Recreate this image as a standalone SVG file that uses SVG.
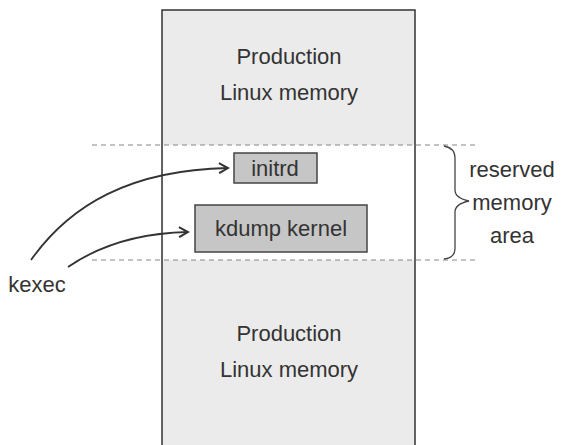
<svg xmlns="http://www.w3.org/2000/svg" width="571" height="445" viewBox="0 0 571 445">
<defs>
<style>
text{font-family:"Liberation Sans",Arial,sans-serif;font-size:22px;fill:#333;text-anchor:middle}
.box{fill:#c6c6c6;stroke:#444;stroke-width:1.5}
.dash{stroke:#888;stroke-width:1.2;stroke-dasharray:5,4;fill:none}
.conn{fill:none;stroke:#333;stroke-width:1.8}
</style>
<marker id="ah" viewBox="0 0 12 12" refX="10" refY="6" markerWidth="12" markerHeight="12" markerUnits="userSpaceOnUse" orient="auto">
<path d="M1,1 L10,6 L1,11" fill="none" stroke="#333" stroke-width="2"/>
</marker>
</defs>
<rect width="571" height="445" fill="#fff"/>
<g id="memory">
<rect x="162" y="10" width="253" height="440" fill="#ebebeb" stroke="#333" stroke-width="1.5"/>
<rect x="163" y="145" width="251" height="115" fill="#fff"/>
<text x="289" y="64">Production</text>
<text x="289" y="100">Linux memory</text>
<text x="289" y="341">Production</text>
<text x="289" y="377">Linux memory</text>
</g>
<g id="reserved">
<line class="dash" x1="92" y1="145" x2="478" y2="145"/>
<line class="dash" x1="92" y1="260" x2="478" y2="260"/>
<path d="M444,146 Q455,148 455,158 L455,190 Q455,198 469,201 Q455,204 455,212 L455,248 Q455,258 444,259" fill="none" stroke="#444" stroke-width="1.3"/>
<text x="512" y="177">reserved</text>
<text x="512" y="210">memory</text>
<text x="512" y="243">area</text>
</g>
<g id="initrd">
<rect class="box" x="234" y="153" width="83" height="30"/>
<text x="275" y="176">initrd</text>
</g>
<g id="kdump">
<rect class="box" x="195" y="205" width="172" height="47"/>
<text x="281" y="236">kdump kernel</text>
</g>
<g id="kexec">
<text x="37" y="292">kexec</text>
</g>
<g id="connectors">
<path class="conn" d="M31,260 C70,205 130,170 228,168" marker-end="url(#ah)"/>
<path class="conn" d="M68,267 C100,245 140,233 188,232" marker-end="url(#ah)"/>
</g>
</svg>
